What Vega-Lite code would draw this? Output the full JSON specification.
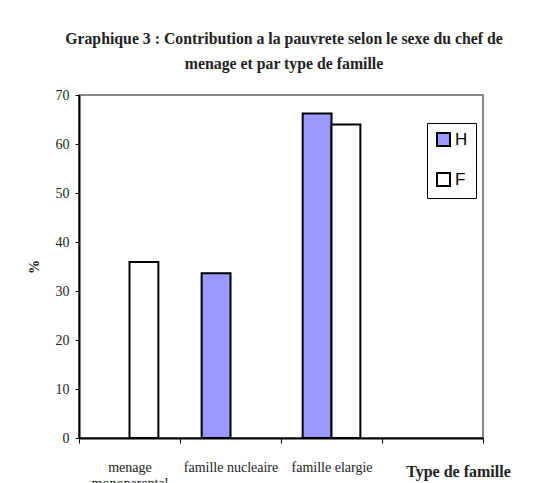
{
  "$schema": "https://vega.github.io/schema/vega-lite/v6.json",
  "autosize": {"type": "none"},
  "padding": {"left": 79, "top": 95, "right": 71, "bottom": 45},
  "width": 404,
  "height": 343,
  "background": "white",
  "title": {
    "text": ["Graphique 3 : Contribution a la pauvrete selon le sexe du chef de", "menage et par type de famille"],
    "font": "Liberation Serif",
    "fontSize": 15.8,
    "fontWeight": "bold",
    "color": "#222",
    "lineHeight": 25,
    "anchor": "middle",
    "dx": 3,
    "offset": 15
  },
  "data": {
    "values": [
      {"type": "menage monoparental", "sexe": "F", "pct": 35.9},
      {"type": "famille nucleaire", "sexe": "H", "pct": 33.6},
      {"type": "famille elargie", "sexe": "H", "pct": 66.2},
      {"type": "famille elargie", "sexe": "F", "pct": 64.0}
    ]
  },
  "mark": {"type": "bar", "stroke": "black", "strokeWidth": 2},
  "encoding": {
    "x": {
      "field": "type",
      "type": "nominal",
      "sort": null,
      "scale": {"domain": ["menage monoparental", "famille nucleaire", "famille elargie", " "], "paddingInner": 0, "paddingOuter": 0},
      "axis": {
        "title": "Type de famille",
        "titleFont": "Liberation Serif",
        "titleFontSize": 16,
        "titleFontWeight": "bold",
        "titleColor": "#222",
        "titleX": 379,
        "titleY": 33,
        "titleAlign": "center",
        "titleBaseline": "middle",
        "labelAngle": 0,
        "labelFont": "Liberation Serif",
        "labelFontSize": 14,
        "labelColor": "#222",
        "labelPadding": 17,
        "labelLineHeight": 16,
        "labelExpr": "datum.label == 'menage monoparental' ? ['menage', 'monoparental'] : datum.label",
        "tickBand": "extent",
        "tickSize": 5,
        "tickColor": "black",
        "domainColor": "black",
        "domainWidth": 2,
        "labelOverlap": false,
        "labelLimit": 0
      }
    },
    "xOffset": {
      "field": "sexe",
      "type": "nominal",
      "scale": {"domain": ["H", "F"], "paddingInner": 0, "paddingOuter": 0.75}
    },
    "y": {
      "field": "pct",
      "type": "quantitative",
      "scale": {"domain": [0, 70], "nice": false},
      "axis": {
        "title": "%",
        "titleFont": "Liberation Serif",
        "titleFontSize": 14,
        "titleFontWeight": "bold",
        "titleColor": "#222",
        "titlePadding": 14,
        "values": [0, 10, 20, 30, 40, 50, 60, 70],
        "grid": false,
        "labelFont": "Liberation Serif",
        "labelFontSize": 14,
        "labelColor": "#222",
        "labelPadding": 6,
        "tickSize": 4,
        "tickColor": "black",
        "domainColor": "black",
        "domainWidth": 2
      }
    },
    "color": {
      "field": "sexe",
      "type": "nominal",
      "scale": {"domain": ["H", "F"], "range": ["#9999FF", "#FFFFFF"]},
      "legend": {
        "title": null,
        "orient": "none",
        "legendX": 348,
        "legendY": 28,
        "padding": 8,
        "strokeColor": "black",
        "fillColor": "white",
        "symbolType": "square",
        "symbolSize": 169,
        "symbolStrokeColor": "black",
        "symbolStrokeWidth": 2,
        "symbolOpacity": 1,
        "labelFont": "Liberation Sans",
        "labelFontSize": 17,
        "labelColor": "black",
        "labelOffset": 3,
        "rowPadding": 19
      }
    }
  },
  "config": {
    "view": {"stroke": "#888888", "strokeWidth": 2}
  }
}
